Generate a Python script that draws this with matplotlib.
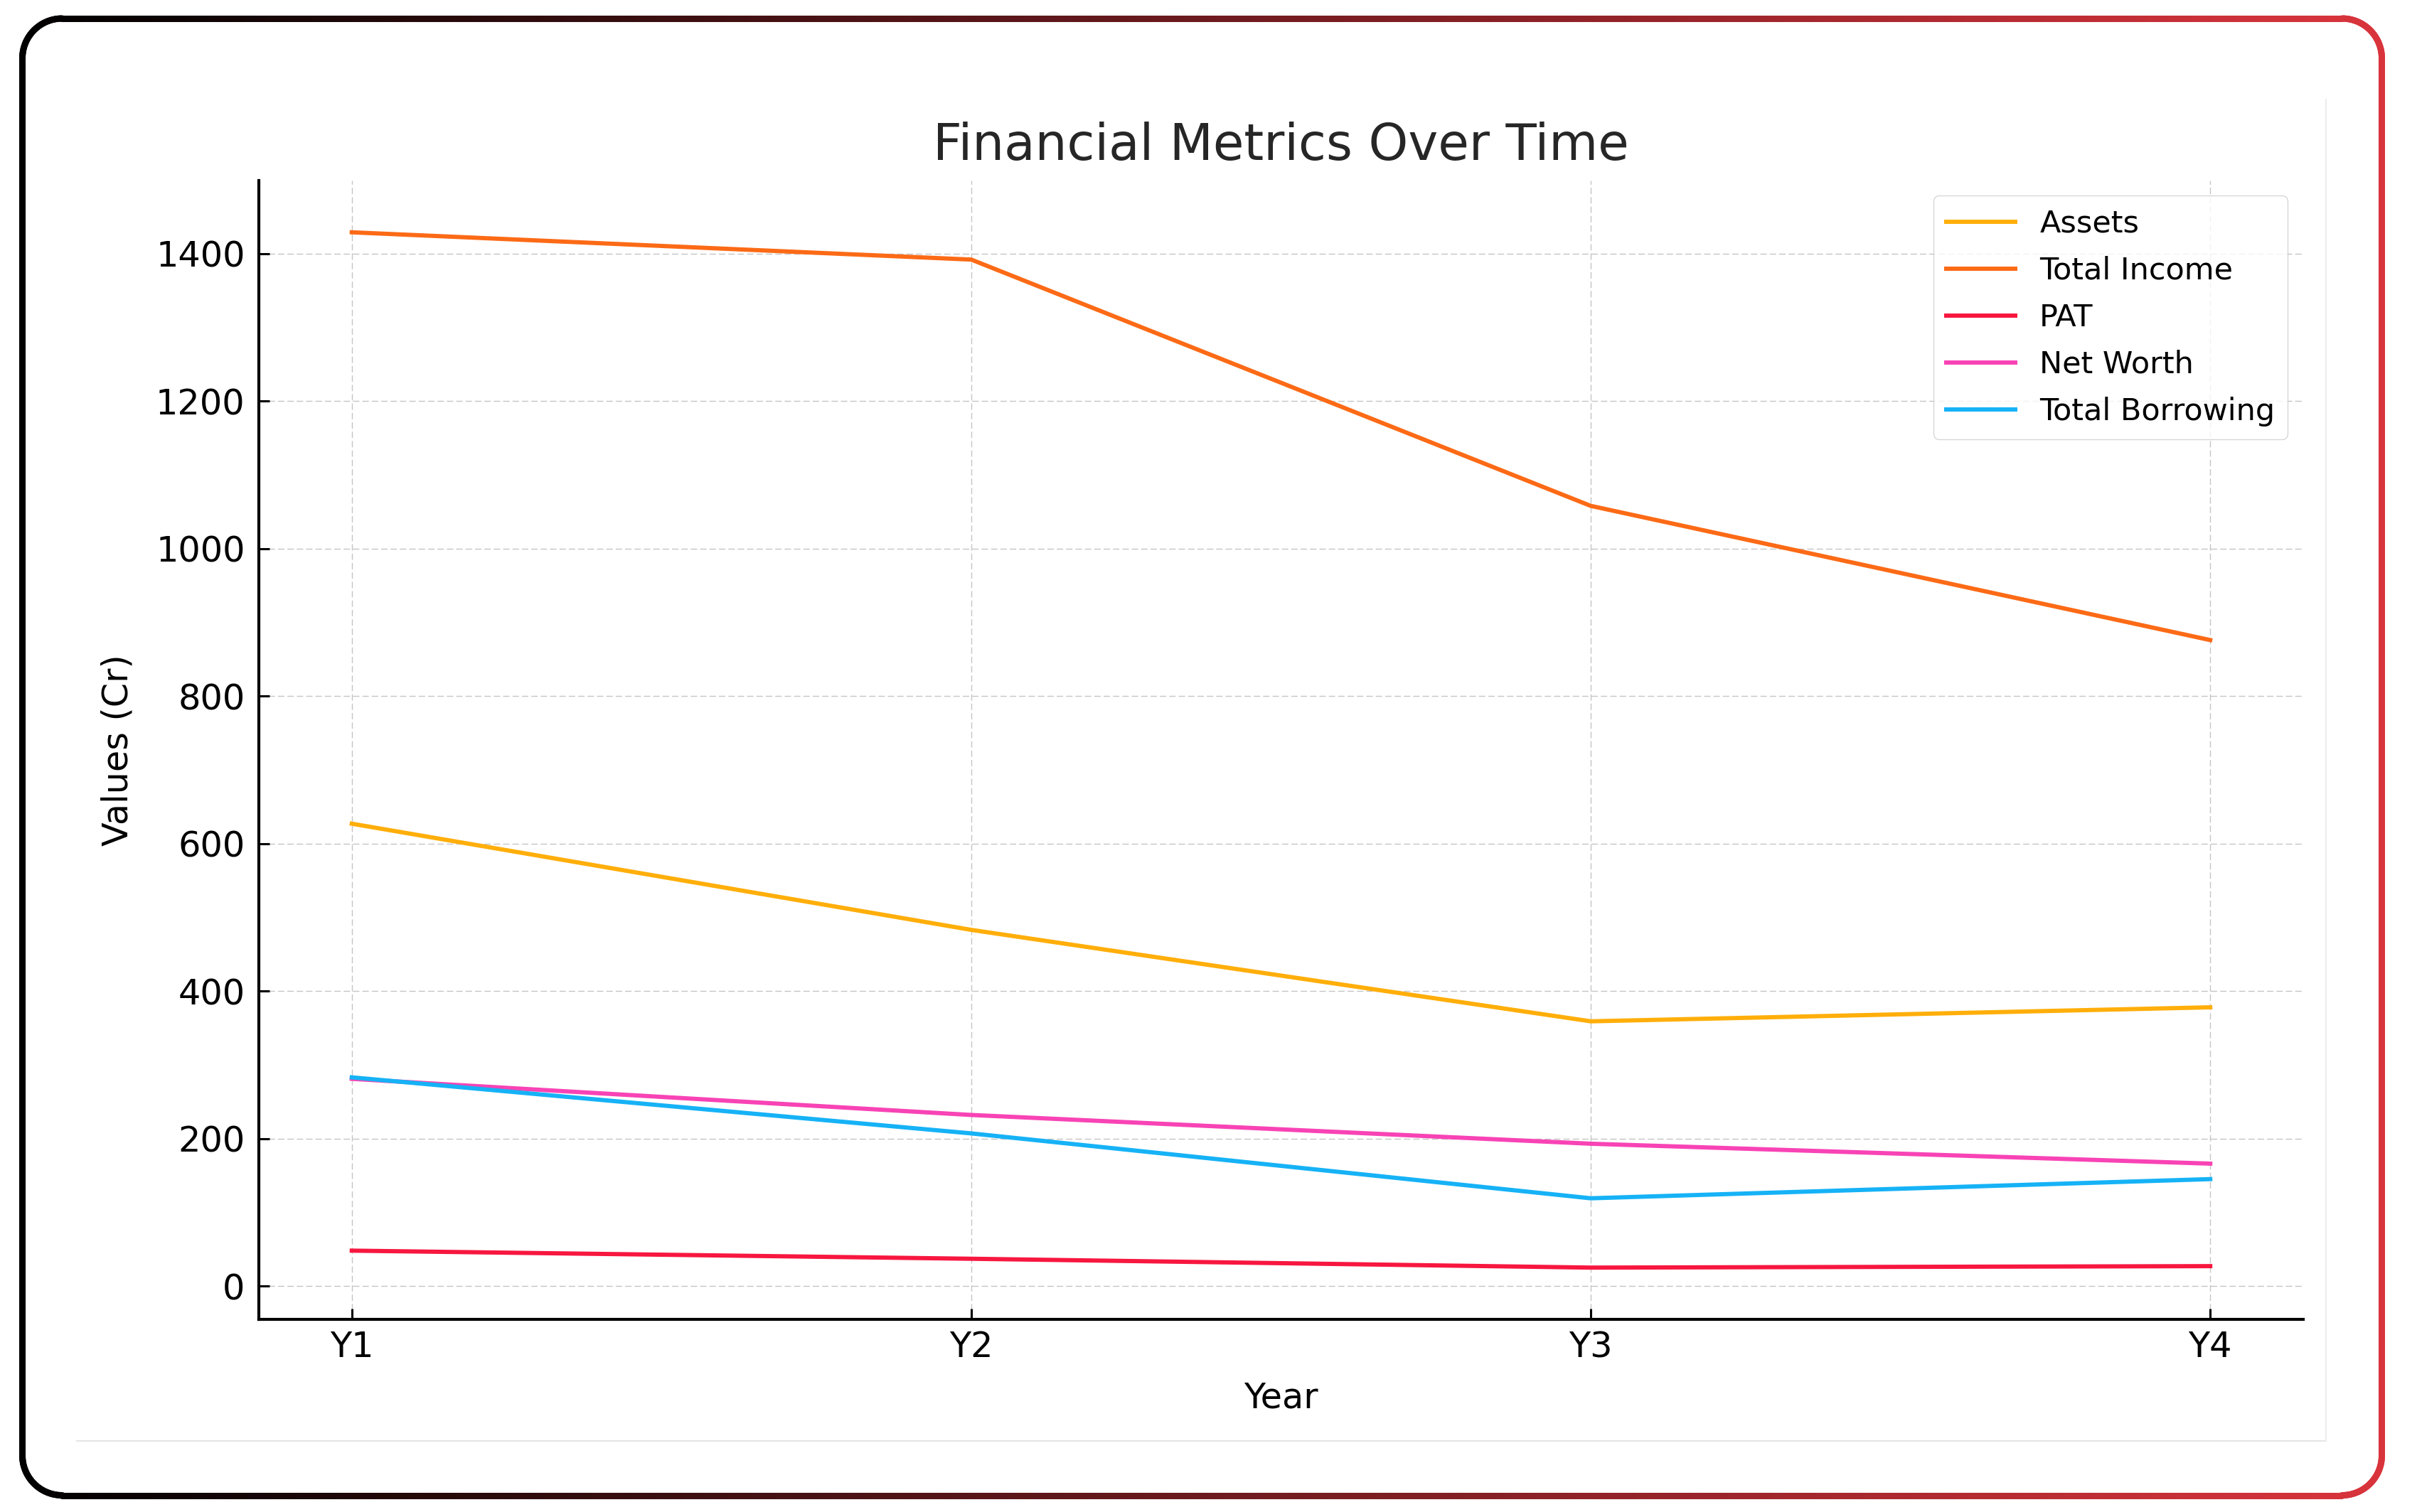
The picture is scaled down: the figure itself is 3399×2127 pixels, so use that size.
import numpy as np
import matplotlib
matplotlib.use('Agg')
import matplotlib.pyplot as plt
from matplotlib.collections import LineCollection
from matplotlib.colors import LinearSegmentedColormap

years = ['Y1', 'Y2', 'Y3', 'Y4']
assets = [627, 483, 359, 378]
total_income = [1429, 1392, 1058, 876]
pat = [48, 37, 25, 27]
net_worth = [281, 232, 193, 166]
total_borrowing = [283, 207, 119, 145]

series = [
    ('Assets', assets, '#FFAE0A'),
    ('Total Income', total_income, '#FC6A16'),
    ('PAT', pat, '#F7173F'),
    ('Net Worth', net_worth, '#F843B5'),
    ('Total Borrowing', total_borrowing, '#16B2F6'),
]

W, H = 3399, 2127
fig = plt.figure(figsize=(W / 100, H / 100), dpi=100)
fig.patch.set_facecolor('white')

# background layer: rounded gradient border + faint edge of pasted figure
bg = fig.add_axes([0, 0, 1, 1], zorder=-1)
bg.set_xlim(0, W)
bg.set_ylim(H, 0)
bg.axis('off')

x0, x1, y0, y1, r = 31.5, 3349.5, 26, 2103.5, 56
pts = []
def arc(cx, cy, a0, a1):
    t = np.linspace(np.radians(a0), np.radians(a1), 40)
    return list(zip(cx + r * np.cos(t), cy + r * np.sin(t)))
def seg(xa, ya, xb, yb, n=200):
    return list(zip(np.linspace(xa, xb, n), np.linspace(ya, yb, n)))
pts += seg(x0 + r, y0, x1 - r, y0)
pts += arc(x1 - r, y0 + r, -90, 0)
pts += seg(x1, y0 + r, x1, y1 - r)
pts += arc(x1 - r, y1 - r, 0, 90)
pts += seg(x1 - r, y1, x0 + r, y1)
pts += arc(x0 + r, y1 - r, 90, 180)
pts += seg(x0, y1 - r, x0, y0 + r)
pts += arc(x0 + r, y0 + r, 180, 270)
pts = np.array(pts)
segs = np.stack([pts[:-1], pts[1:]], axis=1)
cmap = LinearSegmentedColormap.from_list('bd', ['#000000', '#D9343C'])
cols = cmap((segs[:, :, 0].mean(axis=1) - x0) / (x1 - x0))
bg.add_collection(LineCollection(segs, colors=cols, linewidths=6.5, capstyle='round'))
bg.plot([108, 3271], [2027, 2027], color='#e6e6e6', lw=1.5)
bg.plot([3271, 3271], [140, 2027], color='#ececec', lw=1.5)

ax = fig.add_axes([0.1071, 0.1274, 0.8458, 0.7532])
x = np.arange(len(years))
for name, vals, c in series:
    ax.plot(x, vals, color=c, lw=4.3, label=name)

ax.set_xticks(x)
ax.set_xticklabels(years)
ax.set_yticks(np.arange(0, 1401, 200))
ax.grid(True, linestyle=(0, (6.5, 3)), linewidth=1, color='gray', alpha=0.45)
ax.set_axisbelow(True)
for s in ['top', 'right']:
    ax.spines[s].set_visible(False)
for s in ['left', 'bottom']:
    ax.spines[s].set_linewidth(3)
ax.tick_params(axis='both', direction='in', length=11, width=2.2, labelsize=35.6)
ax.tick_params(axis='y', pad=14)
ax.tick_params(axis='x', pad=11)

ax.set_title('Financial Metrics Over Time', fontsize=51, color='#262626', pad=21)
ax.set_xlabel('Year', fontsize=35.5, labelpad=17)
ax.set_ylabel('Values (Cr)', fontsize=35.5, labelpad=21)

leg = ax.legend(loc='upper right', fontsize=31, handlelength=2.25,
                labelspacing=0.56, borderpad=0.42)
for line in leg.get_lines():
    line.set_linewidth(4.3)

fig.savefig('out.png', dpi=100)
